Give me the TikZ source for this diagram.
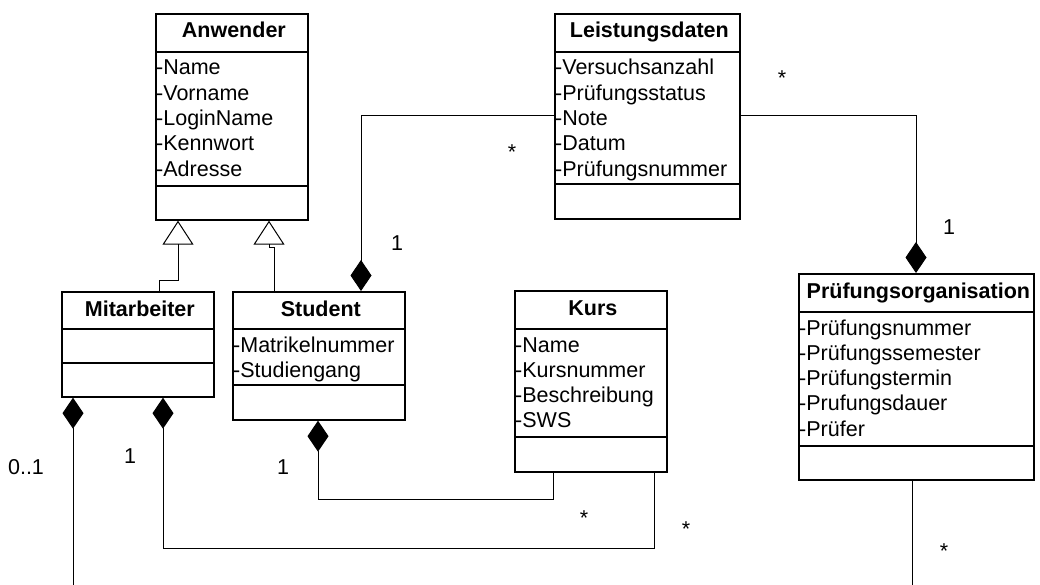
\documentclass[tikz,border=0pt]{standalone}
\usepackage{fontspec}
\setmainfont{Liberation Sans}
\usetikzlibrary{arrows.meta,shapes.geometric}

\tikzset{
  umlbox/.style={draw, rectangle, line width=1.7pt, fill=white, inner sep=0pt},
  umlrule/.style={line width=1.7pt},
  umltitle/.style={font=\fontsize{21.5pt}{25pt}\selectfont\bfseries, inner sep=0pt, anchor=base},
  umlattr/.style={font=\fontsize{21.5pt}{25pt}\selectfont, inner sep=0pt, anchor=base west},
  mult/.style={font=\fontsize{21.5pt}{25pt}\selectfont, inner sep=0pt, anchor=base},
  conn/.style={line width=1pt},
  inherit/.style={conn, -{Triangle[open, length=24pt, width=31pt]}},
  compose/.style={conn, -{Diamond[length=31pt, width=21pt]}},
}

% class box: name, x, y, width, height, first rule, second rule, title
\newcommand\umlclass[8]{%
  \node[umlbox, minimum width=#4pt, minimum height=#5pt, anchor=north west] (#1) at (#2,#3) {};
  \draw[umlrule] ([yshift=-#6pt]#1.north west) -- ([yshift=-#6pt]#1.north east);
  \draw[umlrule] ([yshift=-#7pt]#1.north west) -- ([yshift=-#7pt]#1.north east);
  \node[umltitle] (#1-title) at ([xshift=2pt,yshift=-25pt]#1.north) {#8};
}
% attribute lines below the first rule: name, first rule, list
\newcommand\umlattrs[3]{%
  \foreach \txt [count=\k] in {#3} {
    \node[umlattr] (#1-attr\k) at ([xshift=1pt,yshift={-(#2+23+25.3*(\k-1))*1pt}]#1.north west) {\txt};
  }
}

\begin{document}
\begin{tikzpicture}[x=1pt,y=-1pt]
\useasboundingbox (0,0) rectangle (1040,585);

% classes
\umlclass{anw}{155}{13}{152}{206}{39}{173}{Anwender}
\umlattrs{anw}{39}{-Name,-Vorname,-LoginName,-Kennwort,-Adresse}

\umlclass{ld}{554}{13}{185}{205}{39}{171}{Leistungsdaten}
\umlattrs{ld}{39}{-Versuchsanzahl,-Prüfungsstatus,-Note,-Datum,-Prüfungsnummer}

\umlclass{mit}{61}{291}{152}{105}{38}{72}{Mitarbeiter}

\umlclass{stu}{232}{291}{172}{128}{38}{94}{Student}
\umlattrs{stu}{38}{-Matrikelnummer,-Studiengang}

\umlclass{kurs}{514}{290}{152}{181}{39}{147}{Kurs}
\umlattrs{kurs}{39}{-Name,-Kursnummer,-Beschreibung,-SWS}

\umlclass{pf}{798}{273}{235}{206}{39}{173}{Prüfungsorganisation}
\umlattrs{pf}{39}{-Prüfungsnummer,-Prüfungssemester,-Prüfungstermin,-Prufungsdauer,-Prüfer}

% generalisations
\draw[inherit] ([xshift=98pt]mit.north west) -- ++(0,-11) -| ([xshift=23pt]anw.south west);
\draw[inherit] ([xshift=42pt]stu.north west) -- ++(0,-44) -| ([xshift=114pt]anw.south west);

% compositions
\draw[compose] ([yshift=-103pt]ld.north west) -| ([xshift=129pt]stu.north west);
\draw[compose] ([yshift=-103pt]ld.north east) -| ([xshift=118pt]pf.north west);
\draw[compose] ([xshift=39pt]kurs.south west) -- ++(0,27) -| ([xshift=86pt]stu.south west);
\draw[compose] ([xshift=140pt]kurs.south west) -- ++(0,76) -| ([xshift=102pt]mit.south west);
\coordinate (mitOut) at (73,585);
\draw[compose] (mitOut) -- ([xshift=12pt]mit.south west);
\coordinate (pfOut) at (912,585);
\draw[conn] ([xshift=114pt]pf.south west) -- (pfOut);

% multiplicities
\node[mult] (m1) at (397,250) {1};
\node[mult] (m2) at (512,160) {*};
\node[mult] (m3) at (782,86) {*};
\node[mult] (m4) at (949,234) {1};
\node[mult] (m5) at (26,474) {0..1};
\node[mult] (m6) at (130,463) {1};
\node[mult] (m7) at (283,474) {1};
\node[mult] (m8) at (584,525) {*};
\node[mult] (m9) at (686,536) {*};
\node[mult] (m10) at (944,558) {*};
\end{tikzpicture}
\end{document}
